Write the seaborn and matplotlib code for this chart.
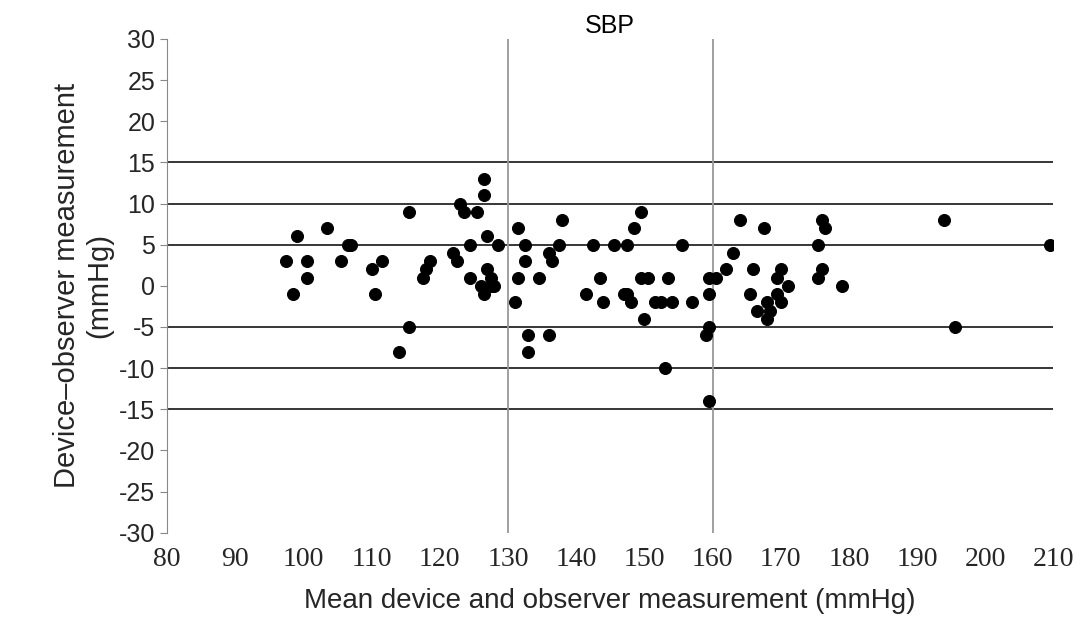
import matplotlib
matplotlib.use("Agg")
import matplotlib.pyplot as plt
import seaborn as sns
import pandas as pd

mean_vals = [97.5,98.5,99,100.5,100.5,103.5,105.5,106.5,107,110,110.5,111.5,114,115.5,115.5,117.5,118,118.5,
             122,122.5,123,123.5,124.5,124.5,125.5,126,126.5,126.5,126.5,127,127,127.5,127.5,128,128.5,
             131,131.5,131.5,132.5,132.5,133,133,134.5,136,136,136.5,137.5,138,141.5,142.5,143.5,144,145.5,
             147,147.5,147.5,148,148.5,149.5,149.5,150,150.5,151.5,152.5,153,153.5,154,155.5,157,159,159.5,
             159.5,159.5,159.5,160.5,162,163,164,165.5,166,166.5,167.5,168,168,168.5,169.5,169.5,170,170,171,
             175.5,175.5,176,176,176.5,179,194,195.5,209.5]
diff_vals = [3,-1,6,3,1,7,3,5,5,2,-1,3,-8,9,-5,1,2,3,
             4,3,10,9,5,1,9,0,-1,11,13,6,2,1,0,0,5,
             -2,7,1,5,3,-6,-8,1,4,-6,3,5,8,-1,5,1,-2,5,
             -1,5,-1,-2,7,9,1,-4,1,-2,-2,-10,1,-2,5,-2,-6,-14,
             -5,-1,1,1,2,4,8,-1,2,-3,7,-2,-4,-3,1,-1,2,-2,0,
             5,1,8,2,7,0,8,-5,5]
x_ticks = list(range(80, 211, 10))
y_ticks = list(range(-30, 31, 5))
h_lines = [-15, -10, -5, 5, 10, 15]
v_lines = [130, 160]

df = pd.DataFrame({"m": mean_vals, "d": diff_vals})
sns.set_style("white")
plt.rcParams['font.family'] = ['Liberation Sans', 'DejaVu Sans']
plt.rcParams['axes.unicode_minus'] = False
fig = plt.figure(figsize=(10.81, 6.38), dpi=100)
ax = fig.add_axes([0.1545, 0.165, 0.8200, 0.774])
for h in h_lines:
    ax.axhline(h, color="black", lw=1.1, zorder=1)
for v in v_lines:
    ax.axvline(v, color="#999999", lw=1.3, zorder=1)
sns.scatterplot(data=df, x="m", y="d", color="black", s=75, edgecolor="black", ax=ax, zorder=3)
ax.set_xlim(80, 210)
ax.set_ylim(-30, 30)
ax.set_xticks(x_ticks)
ax.set_yticks(y_ticks)
ax.set_xticklabels([str(t) for t in x_ticks], family="Liberation Serif", fontsize=20)
ax.set_yticklabels([str(t) for t in y_ticks])
ax.tick_params(axis="y", labelsize=18, direction="out", length=5, left=True, color="#888888")
ax.tick_params(axis="x", length=0, pad=10)
for s in ["top", "right", "bottom"]:
    ax.spines[s].set_visible(False)
ax.spines["left"].set_color("#888888")
ax.set_xlabel("Mean device and observer measurement (mmHg)", fontsize=20, labelpad=12)
ax.set_ylabel("Device–observer measurement\n(mmHg)", fontsize=21)
ax.set_title("SBP", fontsize=18, pad=4, color="black")
fig.savefig("out.png", dpi=100)
